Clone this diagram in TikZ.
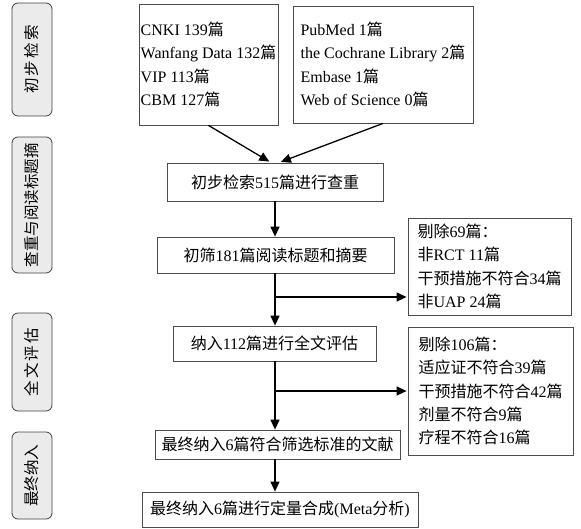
\documentclass[tikz,border=0pt]{standalone}
\usepackage{fontspec}
\setmainfont{Liberation Serif}
\newfontfamily\cjk{Noto Sans CJK SC}
\newfontfamily\cjkwide[LetterSpace=13]{Noto Sans CJK SC}
\newcommand{\zh}[1]{{\cjk #1}}
\usetikzlibrary{arrows.meta}

\begin{document}
\begin{tikzpicture}
[x=1pt, y=-1pt,
 every node/.style={align=left, font=\fontsize{16}{23.3}\selectfont},
 stepBox/.style={draw=black!70, line width=0.8pt, inner sep=0pt},
 sideBox/.style={draw=black!75, fill=black!8, rounded corners=6pt,
   line width=0.8pt, rotate=90, minimum height=40pt,
   font=\fontsize{15.5}{18}\cjk},
 flow/.style={line width=1.3pt, -{Triangle[length=10pt, width=9pt]}}
]
\useasboundingbox (0,0) rectangle (581,528);
\node[sideBox, minimum width=113pt] (S1) at (32, 59.5) {\cjkwide 初步检索};
\node[sideBox, minimum width=136pt] (S2) at (32, 205)  {查重与阅读标题摘};
\node[sideBox, minimum width=98pt]  (S3) at (32, 362)  {\cjkwide 全文评估};
\node[sideBox, minimum width=87pt]  (S4) at (32, 475.5) {最终纳入};
\node[stepBox, minimum width=139pt, minimum height=121pt] (D1) at (208.5, 64.5)
  {CNKI 139\zh{篇}\\Wanfang Data 132\zh{篇}\\VIP 113\zh{篇}\\CBM 127\zh{篇}};
\node[stepBox, minimum width=180pt, minimum height=117pt] (D2) at (383, 64.5)
  {PubMed 1\zh{篇}\\the Cochrane Library 2\zh{篇}\\Embase 1\zh{篇}\\Web of Science 0\zh{篇}};
\node[stepBox, minimum width=216pt, minimum height=38pt] (R1) at (275, 182)
  {\zh{初步检索}515\zh{篇进行查重}};
\node[stepBox, minimum width=237pt, minimum height=36pt] (R2) at (275.5, 255)
  {\zh{初筛}181\zh{篇阅读标题和摘要}};
\node[stepBox, minimum width=163pt, minimum height=97pt] (E1) at (489.5, 266.5)
  {\zh{剔除}69\zh{篇：}\\\zh{非}RCT 11\zh{篇}\\\zh{干预措施不符合}34\zh{篇}\\\zh{非}UAP 24\zh{篇}};
\node[stepBox, minimum width=203pt, minimum height=35pt] (R3) at (274.5, 343.5)
  {\zh{纳入}112\zh{篇进行全文评估}};
\node[stepBox, minimum width=165pt, minimum height=128pt] (E2) at (490.5, 391)
  {\zh{剔除}106\zh{篇：}\\\zh{适应证不符合}39\zh{篇}\\\zh{干预措施不符合}42\zh{篇}\\\zh{剂量不符合}9\zh{篇}\\\zh{疗程不符合}16\zh{篇}};
\node[stepBox, minimum width=245pt, minimum height=29pt] (R4) at (277.5, 444.5)
  {\zh{最终纳入}6\zh{篇符合筛选标准的文献}};
\node[stepBox, minimum width=276pt, minimum height=35pt] (R5) at (280, 509.5)
  {\zh{最终纳入}6\zh{篇进行定量合成}(Meta\zh{分析})};
\coordinate (stem) at (275, 0);
\coordinate (B1) at (275, 297);
\coordinate (B2) at (275, 391);
\draw[flow, shorten >=2pt] (D1.south) -- ([xshift=-4pt]R1.north);
\draw[flow, shorten >=2pt] (D2.south) -- ([xshift=4pt]R1.north);
\draw[flow] (R1.south -| stem) -- (R2.north -| stem);
\draw[flow] (R2.south -| stem) -- (R3.north -| stem);
\draw[flow, shorten >=1pt] (B1) -- (E1.west |- B1);
\draw[flow] (R3.south -| stem) -- (R4.north -| stem);
\draw[flow, shorten >=1pt] (B2) -- (E2.west |- B2);
\draw[flow] (R4.south -| stem) -- (R5.north -| stem);
\end{tikzpicture}
\end{document}
